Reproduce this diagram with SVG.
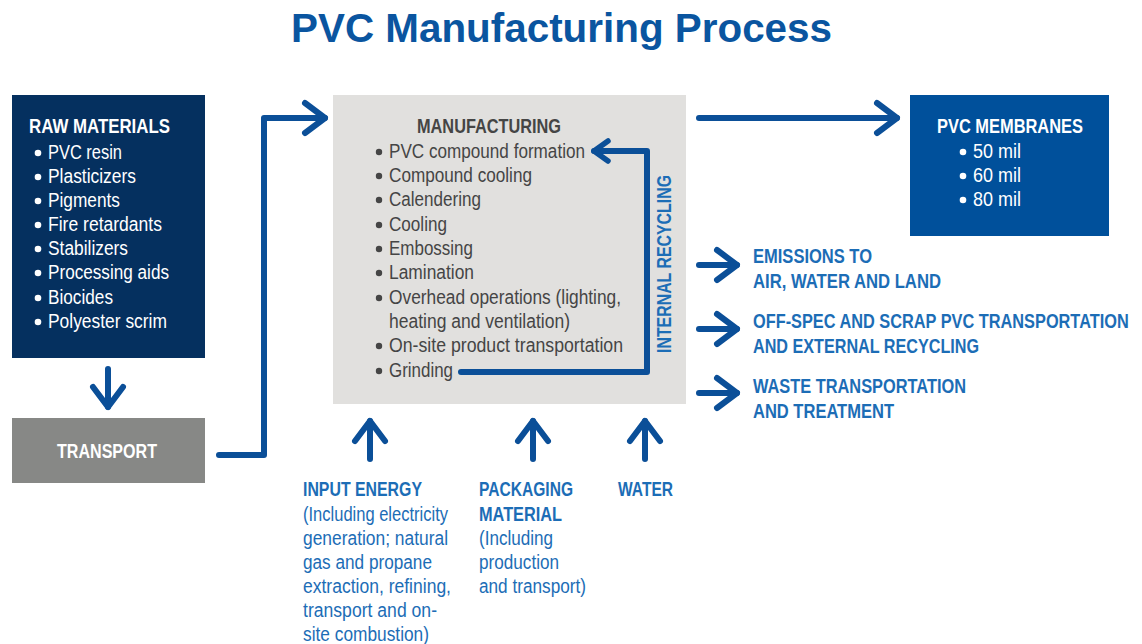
<svg xmlns="http://www.w3.org/2000/svg" width="1142" height="644" viewBox="0 0 1142 644">
  <style>
    .t { font-family: "Liberation Sans", Arial, sans-serif; font-size: 20px; }
    .b { font-weight: bold; }
    .white { fill: #ffffff; }
    .dark { fill: #454545; }
    .blue { fill: #1c6db6; }
    .flow { fill: none; stroke: #0b4f98; stroke-width: 6; stroke-linecap: round; stroke-linejoin: round; }
    .dot-w { fill: #ffffff; }
    .dot-d { fill: #454545; }
  </style>
  <defs>
    <marker id="head" markerUnits="userSpaceOnUse" viewBox="-26 -20 30 40" markerWidth="30" markerHeight="40" refX="0" refY="0" orient="auto">
      <path d="M-20,-15 L0,0 L-20,15" fill="none" stroke="#0b4f98" stroke-width="6" stroke-linecap="round" stroke-linejoin="round"/>
    </marker>
    <marker id="headSmall" markerUnits="userSpaceOnUse" viewBox="-20 -16 24 32" markerWidth="24" markerHeight="32" refX="0" refY="0" orient="auto">
      <path d="M-14,-10 L0,0 L-14,10" fill="none" stroke="#0b4f98" stroke-width="5.5" stroke-linecap="round" stroke-linejoin="round"/>
    </marker>
  </defs>

  <rect width="1142" height="644" fill="#ffffff"/>

  <!-- title -->
  <text x="291" y="42" class="t b" style="font-size:40px" fill="#0a55a0" textLength="541" lengthAdjust="spacingAndGlyphs">PVC Manufacturing Process</text>

  <!-- raw materials -->
  <g id="raw-materials">
    <rect x="12" y="95" width="193" height="263" fill="#05305f"/>
    <text x="29" y="133" class="t b white" textLength="141" lengthAdjust="spacingAndGlyphs">RAW MATERIALS</text>
    <g class="dot-w">
      <circle cx="38" cy="153" r="3.3"/><circle cx="38" cy="177" r="3.3"/><circle cx="38" cy="201" r="3.3"/><circle cx="38" cy="225" r="3.3"/>
      <circle cx="38" cy="249" r="3.3"/><circle cx="38" cy="273" r="3.3"/><circle cx="38" cy="298" r="3.3"/><circle cx="38" cy="322" r="3.3"/>
    </g>
    <text x="48" y="159" class="t white" textLength="74" lengthAdjust="spacingAndGlyphs">PVC resin</text>
    <text x="48" y="183" class="t white" textLength="88" lengthAdjust="spacingAndGlyphs">Plasticizers</text>
    <text x="48" y="207" class="t white" textLength="72" lengthAdjust="spacingAndGlyphs">Pigments</text>
    <text x="48" y="231" class="t white" textLength="114" lengthAdjust="spacingAndGlyphs">Fire retardants</text>
    <text x="48" y="255" class="t white" textLength="80" lengthAdjust="spacingAndGlyphs">Stabilizers</text>
    <text x="48" y="279" class="t white" textLength="121" lengthAdjust="spacingAndGlyphs">Processing aids</text>
    <text x="48" y="304" class="t white" textLength="65" lengthAdjust="spacingAndGlyphs">Biocides</text>
    <text x="48" y="328" class="t white" textLength="119" lengthAdjust="spacingAndGlyphs">Polyester scrim</text>
  </g>

  <!-- transport -->
  <g id="transport">
    <rect x="12" y="418" width="193" height="65" fill="#878886"/>
    <text x="57" y="458" class="t b white" textLength="100" lengthAdjust="spacingAndGlyphs">TRANSPORT</text>
  </g>

  <!-- manufacturing -->
  <g id="manufacturing">
    <rect x="333" y="95" width="353" height="309" fill="#e1e0de"/>
    <text x="417" y="133" class="t b dark" textLength="144" lengthAdjust="spacingAndGlyphs">MANUFACTURING</text>
    <g class="dot-d">
      <circle cx="379" cy="152" r="3.2"/><circle cx="379" cy="176" r="3.2"/><circle cx="379" cy="200" r="3.2"/><circle cx="379" cy="225" r="3.2"/>
      <circle cx="379" cy="249" r="3.2"/><circle cx="379" cy="273" r="3.2"/><circle cx="379" cy="298" r="3.2"/>
      <circle cx="379" cy="346" r="3.2"/><circle cx="379" cy="371" r="3.2"/>
    </g>
    <text x="389" y="158" class="t dark" textLength="196" lengthAdjust="spacingAndGlyphs">PVC compound formation</text>
    <text x="389" y="182" class="t dark" textLength="143" lengthAdjust="spacingAndGlyphs">Compound cooling</text>
    <text x="389" y="206" class="t dark" textLength="92" lengthAdjust="spacingAndGlyphs">Calendering</text>
    <text x="389" y="231" class="t dark" textLength="58" lengthAdjust="spacingAndGlyphs">Cooling</text>
    <text x="389" y="255" class="t dark" textLength="84" lengthAdjust="spacingAndGlyphs">Embossing</text>
    <text x="389" y="279" class="t dark" textLength="85" lengthAdjust="spacingAndGlyphs">Lamination</text>
    <text x="389" y="304" class="t dark" textLength="232" lengthAdjust="spacingAndGlyphs">Overhead operations (lighting,</text>
    <text x="389" y="328" class="t dark" textLength="181" lengthAdjust="spacingAndGlyphs">heating and ventilation)</text>
    <text x="389" y="352" class="t dark" textLength="234" lengthAdjust="spacingAndGlyphs">On-site product transportation</text>
    <text x="389" y="377" class="t dark" textLength="64" lengthAdjust="spacingAndGlyphs">Grinding</text>
    <text transform="translate(671,353) rotate(-90)" x="0" y="0" class="t b blue" textLength="178" lengthAdjust="spacingAndGlyphs">INTERNAL RECYCLING</text>
  </g>

  <!-- product -->
  <g id="pvc-membranes">
    <rect x="910" y="95" width="199" height="141" fill="#00509b"/>
    <text x="937" y="133" class="t b white" textLength="146" lengthAdjust="spacingAndGlyphs">PVC MEMBRANES</text>
    <g class="dot-w">
      <circle cx="963" cy="152" r="3.3"/><circle cx="963" cy="176" r="3.3"/><circle cx="963" cy="200" r="3.3"/>
    </g>
    <text x="973" y="158" class="t white" textLength="48" lengthAdjust="spacingAndGlyphs">50 mil</text>
    <text x="973" y="182" class="t white" textLength="48" lengthAdjust="spacingAndGlyphs">60 mil</text>
    <text x="973" y="206" class="t white" textLength="48" lengthAdjust="spacingAndGlyphs">80 mil</text>
  </g>

  <!-- outputs -->
  <g id="emissions">
    <text x="753" y="263" class="t b blue" textLength="119" lengthAdjust="spacingAndGlyphs">EMISSIONS TO</text>
    <text x="753" y="288" class="t b blue" textLength="188" lengthAdjust="spacingAndGlyphs">AIR, WATER AND LAND</text>
  </g>
  <g id="off-spec">
    <text transform="translate(753,328) scale(0.85,1)" x="0" y="0" class="t b blue" textLength="442" lengthAdjust="spacingAndGlyphs">OFF-SPEC AND SCRAP PVC TRANSPORTATION</text>
    <text x="753" y="353" class="t b blue" textLength="226" lengthAdjust="spacingAndGlyphs">AND EXTERNAL RECYCLING</text>
  </g>
  <g id="waste">
    <text x="753" y="393" class="t b blue" textLength="213" lengthAdjust="spacingAndGlyphs">WASTE TRANSPORTATION</text>
    <text x="753" y="418" class="t b blue" textLength="141" lengthAdjust="spacingAndGlyphs">AND TREATMENT</text>
  </g>

  <!-- inputs -->
  <g id="input-energy">
    <text x="303" y="496" class="t b blue" textLength="119" lengthAdjust="spacingAndGlyphs">INPUT ENERGY</text>
    <text x="303" y="521" class="t blue" textLength="145" lengthAdjust="spacingAndGlyphs">(Including electricity</text>
    <text x="303" y="545" class="t blue" textLength="145" lengthAdjust="spacingAndGlyphs">generation; natural</text>
    <text x="303" y="569" class="t blue" textLength="129" lengthAdjust="spacingAndGlyphs">gas and propane</text>
    <text x="303" y="593" class="t blue" textLength="148" lengthAdjust="spacingAndGlyphs">extraction, refining,</text>
    <text x="303" y="617" class="t blue" textLength="134" lengthAdjust="spacingAndGlyphs">transport and on-</text>
    <text x="303" y="641" class="t blue" textLength="126" lengthAdjust="spacingAndGlyphs">site combustion)</text>
  </g>
  <g id="packaging">
    <text x="479" y="496" class="t b blue" textLength="94" lengthAdjust="spacingAndGlyphs">PACKAGING</text>
    <text x="479" y="521" class="t b blue" textLength="83" lengthAdjust="spacingAndGlyphs">MATERIAL</text>
    <text x="479" y="545" class="t blue" textLength="74" lengthAdjust="spacingAndGlyphs">(Including</text>
    <text x="479" y="569" class="t blue" textLength="80" lengthAdjust="spacingAndGlyphs">production</text>
    <text x="479" y="593" class="t blue" textLength="107" lengthAdjust="spacingAndGlyphs">and transport)</text>
  </g>
  <g id="water">
    <text x="618" y="496" class="t b blue" textLength="55" lengthAdjust="spacingAndGlyphs">WATER</text>
  </g>

  <!-- connectors -->
  <g id="connectors" class="flow">
    <path d="M108,369 L108,407" marker-end="url(#head)"/>
    <path d="M219,455 L264,455 L264,118 L325,118" marker-end="url(#head)"/>
    <path d="M699,118 L897,118" marker-end="url(#head)"/>
    <path d="M461,372 L647,372 L647,151 L594,151" marker-end="url(#headSmall)"/>
    <path d="M699,265 L737,265" marker-end="url(#head)"/>
    <path d="M699,329 L737,329" marker-end="url(#head)"/>
    <path d="M699,393 L737,393" marker-end="url(#head)"/>
    <path d="M370,459 L370,421" marker-end="url(#head)"/>
    <path d="M533,459 L533,421" marker-end="url(#head)"/>
    <path d="M645,459 L645,421" marker-end="url(#head)"/>
  </g>
</svg>
